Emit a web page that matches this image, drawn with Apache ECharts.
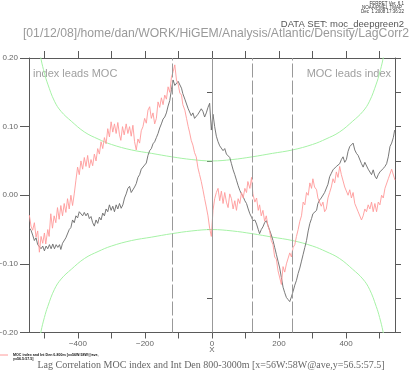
<!DOCTYPE html>
<html>
<head>
<meta charset="utf-8">
<script src="https://cdn.jsdelivr.net/npm/echarts@6/dist/echarts.min.js"></script>
<style>html,body{margin:0;padding:0;background:#fff;}#c{width:419px;height:373px;}</style>
</head>
<body>
<div id="c"></div>
<script>
// lag (x), correlation value (y) -- MOC index vs Int Den 800-3000m
const blackSeries = [[-544,-0.048],[-540,-0.051],[-535,-0.058],[-530,-0.066],[-525,-0.062],[-520,-0.072],[-515,-0.070],[-510,-0.078],[-505,-0.074],[-500,-0.081],[-495,-0.074],[-490,-0.078],[-485,-0.072],[-480,-0.078],[-475,-0.071],[-470,-0.078],[-465,-0.072],[-460,-0.076],[-455,-0.072],[-451,-0.079],[-446,-0.070],[-441,-0.072],[-436,-0.062],[-431,-0.062],[-426,-0.050],[-421,-0.047],[-416,-0.036],[-411,-0.040],[-406,-0.030],[-401,-0.033],[-396,-0.024],[-391,-0.022],[-386,-0.030],[-381,-0.025],[-376,-0.030],[-371,-0.026],[-366,-0.034],[-361,-0.031],[-356,-0.040],[-351,-0.045],[-346,-0.036],[-341,-0.041],[-336,-0.032],[-331,-0.036],[-326,-0.026],[-321,-0.030],[-316,-0.020],[-311,-0.024],[-306,-0.014],[-301,-0.022],[-296,-0.016],[-291,-0.024],[-286,-0.014],[-281,-0.020],[-276,-0.012],[-271,-0.019],[-266,-0.014],[-261,-0.004],[-256,0.002],[-251,0.010],[-246,0.013],[-241,0.004],[-236,0.002],[-231,0.012],[-226,0.017],[-221,0.026],[-216,0.030],[-211,0.038],[-206,0.036],[-201,0.044],[-196,0.047],[-191,0.058],[-186,0.065],[-181,0.068],[-176,0.075],[-171,0.078],[-166,0.084],[-161,0.090],[-156,0.098],[-151,0.104],[-146,0.111],[-141,0.114],[-136,0.120],[-131,0.130],[-126,0.138],[-121,0.154],[-116,0.168],[-111,0.160],[-106,0.158],[-101,0.166],[-96,0.168],[-91,0.156],[-87,0.148],[-81,0.140],[-76,0.133],[-71,0.126],[-67,0.124],[-62,0.116],[-57,0.120],[-52,0.112],[-47,0.110],[-42,0.118],[-37,0.116],[-32,0.126],[-27,0.122],[-22,0.114],[-17,0.120],[-12,0.128],[-7,0.134],[-2,0.095],[3,0.118],[8,0.100],[13,0.086],[18,0.078],[23,0.072],[28,0.070],[33,0.065],[38,0.068],[43,0.060],[48,0.062],[53,0.055],[58,0.046],[63,0.037],[68,0.030],[73,0.022],[78,0.014],[83,0.007],[88,0.002],[93,-0.002],[98,-0.008],[103,-0.012],[108,-0.020],[113,-0.027],[118,-0.032],[122,-0.037],[128,-0.036],[133,-0.042],[138,-0.050],[142,-0.056],[147,-0.050],[152,-0.046],[157,-0.040],[162,-0.037],[167,-0.044],[172,-0.051],[177,-0.058],[182,-0.066],[187,-0.076],[192,-0.086],[197,-0.096],[202,-0.106],[207,-0.120],[212,-0.134],[217,-0.142],[222,-0.149],[227,-0.152],[232,-0.155],[237,-0.148],[242,-0.140],[247,-0.131],[252,-0.124],[257,-0.114],[262,-0.106],[267,-0.096],[272,-0.086],[277,-0.076],[282,-0.066],[287,-0.052],[292,-0.041],[297,-0.034],[301,-0.027],[306,-0.026],[312,-0.022],[316,-0.012],[321,-0.007],[326,-0.004],[331,-0.002],[336,0.004],[341,0.002],[346,0.016],[351,0.027],[356,0.032],[361,0.037],[366,0.036],[371,0.042],[376,0.040],[381,0.046],[386,0.052],[391,0.056],[396,0.048],[401,0.052],[406,0.064],[411,0.071],[416,0.072],[421,0.076],[426,0.066],[431,0.061],[436,0.058],[441,0.056],[446,0.046],[451,0.041],[456,0.048],[461,0.046],[466,0.038],[471,0.037],[476,0.030],[481,0.037],[486,0.028],[491,0.024],[496,0.030],[501,0.034],[506,0.036],[511,0.039],[516,0.042],[521,0.046],[526,0.056],[531,0.071],[536,0.076],[541,0.084],[545,0.095]];

// lag (x), correlation value (y) -- MOC index vs Int Den 0-800m
const pinkSeries = [[-545,-0.029],[-540,-0.045],[-535,-0.051],[-530,-0.040],[-525,-0.061],[-520,-0.052],[-515,-0.083],[-510,-0.060],[-505,-0.070],[-500,-0.055],[-496,-0.071],[-490,-0.050],[-486,-0.060],[-481,-0.027],[-476,-0.048],[-471,-0.030],[-466,-0.040],[-461,-0.018],[-456,-0.035],[-451,-0.015],[-446,-0.030],[-441,-0.012],[-436,-0.025],[-431,-0.005],[-426,-0.020],[-421,0.000],[-416,-0.015],[-411,0.002],[-406,0.022],[-401,0.041],[-396,0.030],[-391,0.050],[-386,0.038],[-381,0.055],[-376,0.042],[-371,0.058],[-366,0.040],[-361,0.052],[-356,0.043],[-351,0.060],[-346,0.050],[-341,0.068],[-336,0.060],[-331,0.078],[-326,0.068],[-321,0.084],[-316,0.075],[-311,0.097],[-306,0.085],[-301,0.107],[-296,0.092],[-291,0.104],[-286,0.090],[-281,0.106],[-276,0.088],[-272,0.080],[-267,0.100],[-262,0.088],[-256,0.104],[-251,0.090],[-246,0.100],[-241,0.086],[-236,0.102],[-231,0.078],[-226,0.066],[-221,0.082],[-216,0.076],[-211,0.094],[-206,0.100],[-201,0.112],[-196,0.105],[-191,0.124],[-186,0.129],[-181,0.112],[-176,0.120],[-171,0.104],[-166,0.112],[-161,0.136],[-156,0.128],[-151,0.142],[-146,0.132],[-141,0.146],[-136,0.140],[-131,0.158],[-126,0.150],[-121,0.172],[-116,0.180],[-111,0.190],[-106,0.168],[-101,0.162],[-96,0.149],[-91,0.146],[-87,0.132],[-81,0.124],[-76,0.112],[-71,0.100],[-67,0.092],[-62,0.080],[-57,0.073],[-52,0.062],[-47,0.056],[-42,0.040],[-37,0.030],[-32,0.020],[-27,0.008],[-22,-0.005],[-17,-0.017],[-12,-0.030],[-7,-0.048],[-2,-0.060],[3,-0.022],[8,-0.005],[13,0.004],[18,0.010],[23,-0.008],[28,0.006],[33,-0.012],[38,0.004],[43,-0.010],[48,-0.018],[53,0.002],[58,-0.005],[63,-0.020],[68,-0.008],[73,-0.022],[78,-0.005],[83,-0.012],[88,0.004],[93,-0.004],[98,0.010],[103,0.004],[107,0.020],[113,0.010],[118,0.026],[122,0.002],[128,-0.010],[133,-0.004],[138,-0.022],[142,-0.014],[147,-0.030],[152,-0.022],[157,-0.038],[162,-0.030],[167,-0.045],[172,-0.052],[177,-0.066],[182,-0.072],[187,-0.090],[192,-0.093],[197,-0.110],[202,-0.112],[207,-0.130],[212,-0.104],[217,-0.112],[222,-0.100],[227,-0.098],[232,-0.084],[237,-0.090],[242,-0.076],[247,-0.072],[252,-0.060],[257,-0.050],[262,-0.038],[267,-0.030],[272,-0.010],[277,-0.014],[282,0.004],[287,0.000],[292,0.018],[297,0.010],[301,0.024],[306,0.012],[312,0.008],[316,-0.004],[321,-0.006],[326,-0.016],[331,-0.010],[336,-0.024],[341,-0.020],[346,-0.004],[351,0.004],[356,0.012],[361,0.024],[366,0.018],[371,0.034],[376,0.026],[381,0.042],[386,0.030],[391,0.028],[396,0.012],[401,0.014],[406,0.000],[411,0.008],[416,-0.004],[421,0.004],[426,-0.012],[431,-0.010],[436,-0.024],[441,-0.026],[446,-0.036],[451,-0.030],[456,-0.020],[461,-0.024],[466,-0.014],[471,-0.020],[476,-0.010],[481,-0.024],[486,-0.012],[491,-0.024],[496,-0.010],[501,-0.014],[506,0.000],[511,-0.004],[516,0.010],[521,0.012],[526,0.024],[531,0.026],[536,0.038],[540,0.036],[546,0.022]];

// significance envelope (|lag|, value)
const envelope = [[0,0.050],[60,0.052],[120,0.056],[180,0.061],[240,0.066],[300,0.074],[340,0.082],[380,0.092],[420,0.108],[450,0.122],[470,0.137],[490,0.162],[500,0.178],[510,0.198],[520,0.225]];

const xTicks = [-500,-400,-300,-200,-100,0,100,200,300,400,500];
const xLabels = [-400,-200,0,200,400];
const yMajor = [-0.2,-0.1,0,0.1,0.2];
const yMinor = [-0.15,-0.05,0.05,0.15];
const yAll = [-0.2,-0.15,-0.1,-0.05,0,0.05,0.1,0.15,0.2];
const lagLines = [-120,0,120,240];

const envFull = envelope.slice(1).reverse().map(p => [-p[0], p[1]]).concat(envelope);
const upper = envFull;
const lower = envFull.map(p => [p[0], -p[1]]);

const AX = '#5a5a5a';
const LBL = '#666';
const minus = v => (v < -1e-9 ? '\u2212' : '');
const chart = echarts.init(document.getElementById('c'), null, {renderer:'canvas'});
const baseX = {type:'value', min:-546, max:546, splitLine:{show:false}};
const baseY = {type:'value', min:-0.2, max:0.2, splitLine:{show:false}};
chart.setOption({
  animation:false,
  backgroundColor:'#fff',
  grid:{left:29, top:58, width:366, height:274.5, containLabel:false, outerBoundsMode:'none'},
  xAxis:[
    Object.assign({}, baseX, {position:'bottom',
      axisLine:{show:true, onZero:false, lineStyle:{color:AX, width:1}},
      axisTick:{show:true, inside:false, length:6, customValues:xTicks, lineStyle:{color:AX}},
      axisLabel:{show:true, customValues:xLabels, margin:7, fontSize:8, color:LBL, fontFamily:'Liberation Sans',
        formatter: v => minus(v) + Math.abs(v)}}),
    Object.assign({}, baseX, {position:'top',
      axisLine:{show:true, onZero:false, lineStyle:{color:AX, width:1}},
      axisTick:{show:true, inside:false, length:7, customValues:xTicks, lineStyle:{color:AX}},
      axisLabel:{show:false}})
  ],
  yAxis:[
    Object.assign({}, baseY, {position:'left',
      axisLine:{show:true, onZero:false, lineStyle:{color:AX, width:1}},
      axisTick:{show:true, inside:false, length:9, customValues:yMajor, lineStyle:{color:AX}},
      axisLabel:{show:true, customValues:yMajor, margin:11, fontSize:8, color:LBL, fontFamily:'Liberation Sans',
        formatter: v => minus(v) + Math.abs(v).toFixed(2)}}),
    Object.assign({}, baseY, {position:'left',
      axisLine:{show:false},
      axisTick:{show:true, inside:false, length:5, customValues:yMinor, lineStyle:{color:AX}},
      axisLabel:{show:false}}),
    Object.assign({}, baseY, {position:'right',
      axisLine:{show:true, onZero:false, lineStyle:{color:AX, width:1}},
      axisTick:{show:true, inside:false, length:6, customValues:yAll, lineStyle:{color:AX}},
      axisLabel:{show:false}})
  ],
  series:[
    {type:'line', name:'sig+', data:upper, smooth:0.4, showSymbol:false, symbol:'none', silent:true,
      lineStyle:{color:'#a6f2a6', width:1}, z:2},
    {type:'line', name:'sig-', data:lower, smooth:0.4, showSymbol:false, symbol:'none', silent:true,
      lineStyle:{color:'#a6f2a6', width:1}, z:2},
    {type:'line', name:'deep', data:blackSeries, showSymbol:false, symbol:'none', silent:true,
      lineStyle:{color:'#6a6a6a', width:0.9}, z:3},
    {type:'line', name:'upper', data:pinkSeries, showSymbol:false, symbol:'none', silent:true,
      lineStyle:{color:'#ff9a9a', width:0.9}, z:4},
    {type:'line', name:'lags', data:[], silent:true, z:1,
      markLine:{silent:true, symbol:'none', animation:false, label:{show:false},
        data: lagLines.map(v => ({xAxis:v, lineStyle:{color:'#999', width:1, type: v===0 ? 'solid' : [14,3]}}))}}
  ],
  graphic:[
    {type:'text', x:404, y:3.5, style:{text:'FERRET Ver. 6.1', fontSize:4.5, fill:'#333', align:'right', verticalAlign:'middle', fontFamily:'Liberation Sans'}},
    {type:'text', x:402, y:7.5, style:{text:'NOAA/PMEL TMAP', fontSize:4.5, fill:'#333', align:'right', verticalAlign:'middle', fontFamily:'Liberation Sans'}},
    {type:'text', x:404, y:11.5, style:{text:'Dec  1 2008 17:36:22', fontSize:4.5, fill:'#333', align:'right', verticalAlign:'middle', fontFamily:'Liberation Sans'}},
    {type:'text', x:404, y:24.5, style:{text:'DATA SET: moc_deepgreen2', fontSize:9.5, fill:'#555', align:'right', verticalAlign:'middle', fontFamily:'Liberation Sans'}},
    {type:'text', x:216, y:34, style:{text:'[01/12/08]/home/dan/WORK/HiGEM/Analysis/Atlantic/Density/LagCorr2', fontSize:12.2, fill:'#9a9a9a', align:'center', verticalAlign:'middle', fontFamily:'Liberation Sans'}},
    {type:'text', x:33, y:74, style:{text:'index leads MOC', fontSize:11, fill:'#a0a0a0', align:'left', verticalAlign:'middle', fontFamily:'Liberation Sans'}},
    {type:'text', x:391, y:74, style:{text:'MOC leads index', fontSize:11, fill:'#a0a0a0', align:'right', verticalAlign:'middle', fontFamily:'Liberation Sans'}},
    {type:'text', x:212, y:350, style:{text:'X', fontSize:8, fill:LBL, align:'center', verticalAlign:'middle', fontFamily:'Liberation Sans'}},
    {type:'text', x:211, y:365, style:{text:'Lag Correlation MOC index and Int Den 800-3000m [x=56W:58W@ave,y=56.5:57.5]', fontSize:10, fill:'#666', align:'center', verticalAlign:'middle', fontFamily:'Liberation Serif'}},
    {type:'line', shape:{x1:0, y1:355, x2:8, y2:355}, style:{stroke:'#ff9a9a', lineWidth:1}},
    {type:'text', x:13, y:354.5, style:{text:'MOC index and Int Den 0-800m [x=56W:58W@ave,', fontSize:3.6, fill:'#111', align:'left', verticalAlign:'middle', fontFamily:'Liberation Sans', fontWeight:'bold'}},
    {type:'text', x:13, y:358.5, style:{text:'y=56.5:57.5]', fontSize:3.6, fill:'#111', align:'left', verticalAlign:'middle', fontFamily:'Liberation Sans', fontWeight:'bold'}}
  ]
});
</script>
</body>
</html>
